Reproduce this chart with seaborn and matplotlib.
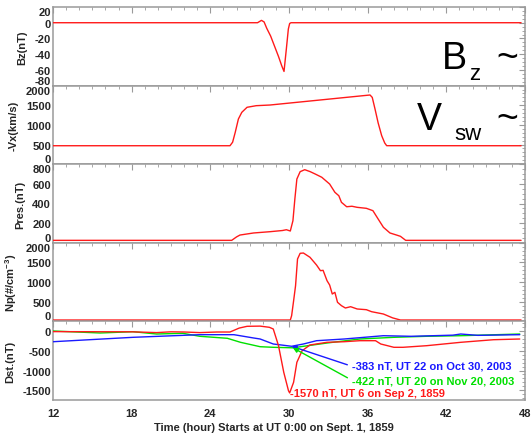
import numpy as np
import pandas as pd
import matplotlib
matplotlib.use("Agg")
import matplotlib.pyplot as plt
import seaborn as sns
from matplotlib.ticker import MultipleLocator

# ---------------- data ----------------
bz_t = [12, 27.6, 27.9, 28.1, 28.3, 28.6, 28.9, 29.2, 29.45, 29.62, 29.8, 29.95, 30.05, 30.15, 47.7]
bz_v = [0, 0, 3, 1, -7, -17, -30, -43, -55, -62, -33, -8, -1, 0, 0]

vx_t = [12, 25.5, 25.7, 25.9, 26.14, 26.4, 26.8, 27.5, 28.55, 36.18, 36.35, 36.56, 36.8, 37.07, 37.3, 37.45, 47.7]
vx_v = [470, 470, 560, 812, 1150, 1320, 1448, 1489, 1506, 1761, 1700, 1405, 1050, 725, 540, 471, 470]

pr_t = [12, 25.63, 26.0, 26.26, 27.3, 28.55, 29.5, 29.8, 30.1, 30.3, 30.45, 30.6, 30.85, 31.2, 31.6,
        32.0, 32.5, 33.1, 33.5, 33.8, 34.0, 34.4, 34.8, 35.2, 35.9, 36.4, 36.8, 37.2, 37.7,
        38.2, 38.5, 38.9, 47.7]
pr_v = [25, 25, 60, 79, 100, 113, 125, 133, 120, 225, 450, 649, 724, 744, 725,
        700, 667, 598, 514, 479, 412, 367, 372, 361, 351, 327, 242, 158, 100,
        79, 66, 25, 25]

np_t = [12, 30.1, 30.2, 30.35, 30.5, 30.65, 30.85, 31.1, 31.6, 32.1, 32.4, 32.6, 32.9, 33.1, 33.3,
        33.5, 33.7, 34.0, 34.3, 34.7, 35.2, 35.9, 36.3, 37.2, 37.9, 38.5, 47.7]
np_v = [35, 35, 145, 520, 908, 1588, 1733, 1740, 1631, 1435, 1290, 1300, 1036, 926, 697,
        740, 486, 400, 341, 374, 316, 298, 247, 188, 90, 35, 35]

dst1859_t = [12, 18, 19.9, 21.0, 22.0, 23.2, 24.5, 25.5, 26.2, 26.8, 27.8, 28.5, 28.8, 29.2, 29.6,
             29.96, 30.05, 30.35, 30.6, 31.0, 31.6, 32.9, 34.2, 35.4, 36.6, 37.0, 38.0, 38.7,
             40.5, 43.1, 45.6, 47.6]
dst1859_v = [-10, -15, -35, -15, -20, -35, -20, -20, 80, 125, 130, 100, 57, -368, -1045,
             -1513, -1570, -1300, -791, -496, -350, -282, -267, -241, -241, -325, -409, -409,
             -368, -282, -216, -198]

dst2003a_t = [12, 18.1, 23.2, 25.8, 27.3, 27.8, 28.8, 30.2, 31.1, 32.1, 34.2, 37.2, 39.3, 41.0,
              42.5, 43.1, 44.4, 47.6]
dst2003a_v = [-267, -155, -88, -88, -172, -198, -325, -383, -325, -241, -198, -114, -129, -114,
              -100, -71, -105, -88]

dst2003b_t = [12, 15.6, 18.1, 19.9, 21.9, 23.2, 25.3, 26.3, 27.8, 28.8, 30.3, 31.1, 32.9, 35.4,
              38.0, 40.5, 43.1, 47.6]
dst2003b_v = [6, -45, -12, -71, -53, -129, -180, -282, -394, -409, -422, -384, -300, -198,
              -155, -129, -114, -71]

x_ticks = [12, 18, 24, 30, 36, 42, 48]
labels_y = ["Bz(nT)", "-Vx(km/s)", "Pres.(nT)", r"Np(#/cm$^{-3}$)", "Dst.(nT)"]
note_1859 = "-1570 nT, UT 6 on Sep 2, 1859"
note_oct = "-383 nT, UT 22 on Oct 30, 2003"
note_nov = "-422 nT, UT 20 on Nov 20, 2003"
x_title = "Time (hour) Starts at UT 0:00 on Sept. 1, 1859"

# ---------------- style ----------------
sns.set_theme(style="white")
plt.rcParams["font.family"] = ["Liberation Sans", "DejaVu Sans"]
plt.rcParams["font.weight"] = "bold"
plt.rcParams["axes.unicode_minus"] = False
plt.rcParams["mathtext.fontset"] = "custom"
plt.rcParams["mathtext.rm"] = "Liberation Sans:bold"
plt.rcParams["mathtext.it"] = "Liberation Sans:bold"
plt.rcParams["mathtext.bf"] = "Liberation Sans:bold"

RED = "#ff1a1a"
BLUE = "#1a1aff"
GREEN = "#00e000"
GRAY = "#9a9a9a"
FS = 8

W, H = 531, 435
fig = plt.figure(figsize=(W / 100, H / 100), dpi=100)
axes = fig.subplots(5, 1, sharex=True, gridspec_kw=dict(hspace=0))
fig.subplots_adjust(left=53 / W, right=525 / W, top=1 - 8 / H, bottom=1 - 401 / H)

panels = [
    (bz_t, bz_v, (-80, 20), np.arange(-80, 21, 20), 5),
    (vx_t, vx_v, (0, 2000), np.arange(0, 2001, 500), 100),
    (pr_t, pr_v, (0, 800), np.arange(0, 801, 200), 50),
    (np_t, np_v, (0, 2000), np.arange(0, 2001, 500), 100),
]

for ax, (t, v, lim, ticks, minor), lab in zip(axes[:4], panels, labels_y[:4]):
    df = pd.DataFrame({"t": t, "v": v})
    sns.lineplot(data=df, x="t", y="v", ax=ax, color=RED, lw=1.0, estimator=None, sort=False,
                 zorder=3)
    ax.set_ylim(*lim)
    ax.set_yticks(ticks)
    ax.yaxis.set_minor_locator(MultipleLocator(minor))
    ax.set_ylabel(lab, fontsize=FS, fontweight="bold", labelpad=5)

# Dst panel
axd = axes[4]
for t, v, c in [(dst2003b_t, dst2003b_v, GREEN), (dst2003a_t, dst2003a_v, BLUE),
                (dst1859_t, dst1859_v, RED)]:
    df = pd.DataFrame({"t": t, "v": v})
    sns.lineplot(data=df, x="t", y="v", ax=axd, color=c, lw=1.0, estimator=None, sort=False,
                 zorder=3)
axd.set_ylim(-1750, 250)
axd.set_yticks([-1500, -1000, -500, 0])
axd.yaxis.set_minor_locator(MultipleLocator(100))
axd.set_ylabel(labels_y[4], fontsize=FS, fontweight="bold", labelpad=5)

# annotations
i = int(np.argmin(dst1859_v))
axd.text(dst1859_t[i], dst1859_v[i], note_1859, color=RED, fontsize=FS, fontweight="bold",
         ha="left", va="center", zorder=4)
i = int(np.argmin(dst2003a_v))
axd.annotate(note_oct, xy=(dst2003a_t[i], dst2003a_v[i]), xytext=(34.8, -880),
             color=BLUE, fontsize=FS, fontweight="bold", ha="left", va="center", zorder=4,
             arrowprops=dict(arrowstyle="-|>,head_length=0.35,head_width=0.18", color=BLUE, lw=1.0,
                             shrinkA=1, shrinkB=0, relpos=(0, 0.45)))
i = int(np.argmin(dst2003b_v))
axd.annotate(note_nov, xy=(dst2003b_t[i], dst2003b_v[i]), xytext=(34.8, -1260),
             color=GREEN, fontsize=FS, fontweight="bold", ha="left", va="center", zorder=4,
             arrowprops=dict(arrowstyle="-|>,head_length=0.35,head_width=0.18", color=GREEN, lw=1.0,
                             shrinkA=1, shrinkB=0, relpos=(0, 0.55)))

for k, ax in enumerate(axes):
    ax.set_xlim(12, 48)
    ax.set_xticks(x_ticks)
    ax.xaxis.set_minor_locator(MultipleLocator(1))
    ax.tick_params(which="both", direction="in", top=True, right=True, color=GRAY,
                   labelsize=FS, pad=1.5)
    ax.tick_params(which="major", length=4, width=0.8)
    ax.tick_params(which="minor", length=2, width=0.6)
    ax.tick_params(axis="x", pad=6)
    for s in ax.spines.values():
        s.set_color(GRAY)
        s.set_linewidth(1.1)
    if k < 4:
        ax.set_xlabel("")
    for lab in ax.get_yticklabels() + ax.get_xticklabels():
        lab.set_fontweight("bold")
    # IDL-like end labels kept inside the panel
    if k < 4:
        mt = ax.yaxis.get_major_ticks()
        mt[0].label1.set_va("bottom")
        mt[-1].label1.set_va("top")

axd.set_xlabel("")
fig.text(273.5 / W, 1 - 428 / H, x_title, fontsize=FS, fontweight="bold", ha="center", va="center")

# big labels
def ftxt(x, y, s, size):
    fig.text(x / W, 1 - y / H, s, fontsize=size, fontweight="normal", ha="left", va="baseline",
             color="black")

ftxt(442, 69, "B", 27)
ftxt(469, 80, "z", 16)
ftxt(496, 69, "~", 27)
ftxt(417, 130, "V", 27)
ftxt(454, 140, "sw", 16)
ftxt(496, 130, "~", 27)

fig.savefig("out.png", dpi=100)
